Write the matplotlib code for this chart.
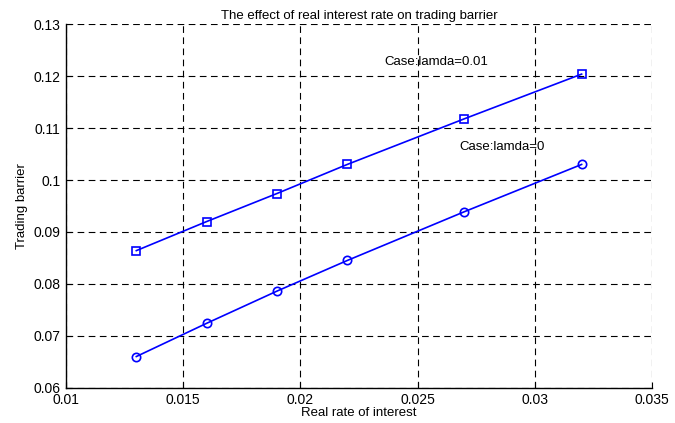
import matplotlib.pyplot as plt

plt.rcParams['font.family'] = ['Liberation Sans', 'DejaVu Sans']

rate = [0.013, 0.016, 0.019, 0.022, 0.027, 0.032]
barrier_lamda001 = [0.0864, 0.0920, 0.0974, 0.1030, 0.1118, 0.1204]
barrier_lamda0 = [0.0660, 0.0724, 0.0786, 0.0845, 0.0939, 0.1030]

xticks = [0.01, 0.015, 0.02, 0.025, 0.03, 0.035]
xticklabels = ["0.01", "0.015", "0.02", "0.025", "0.03", "0.035"]
yticks = [0.06, 0.07, 0.08, 0.09, 0.1, 0.11, 0.12, 0.13]
yticklabels = ["0.06", "0.07", "0.08", "0.09", "0.1", "0.11", "0.12", "0.13"]

fig = plt.figure(figsize=(6.75, 4.23), dpi=100)
ax = fig.add_axes([0.0978, 0.0835, 0.868, 0.8591])

ax.plot(rate, barrier_lamda001, color="blue", lw=1.2, marker="s", ms=6,
        mfc="none", mec="blue", mew=1.2)
ax.plot(rate, barrier_lamda0, color="blue", lw=1.2, marker="o", ms=6,
        mfc="none", mec="blue", mew=1.2)

ax.text(0.0236, 0.1227, "Case:lamda=0.01", fontsize=9.5, va="center")
ax.text(0.0268, 0.1063, "Case:lamda=0", fontsize=9.5, va="center")

ax.set_xlim(0.01, 0.035)
ax.set_ylim(0.06, 0.13)
ax.set_xticks(xticks)
ax.set_xticklabels(xticklabels)
ax.set_yticks(yticks)
ax.set_yticklabels(yticklabels)
ax.tick_params(direction="in", length=4, labelsize=10)
ax.tick_params(axis="x", pad=4)
ax.tick_params(axis="y", pad=4)

ax.grid(True, color="black", linestyle=(0, (6, 4)), lw=0.8)
ax.spines["top"].set_visible(False)
ax.spines["right"].set_visible(False)
ax.spines["left"].set_linewidth(1.0)
ax.spines["bottom"].set_linewidth(1.0)

ax.set_title("The effect of real interest rate on trading barrier", fontsize=9.5, pad=4)
ax.set_xlabel("Real rate of interest", fontsize=9.5, labelpad=0)
ax.set_ylabel("Trading barrier", fontsize=9.5, labelpad=4)

fig.savefig("out.png", dpi=100)
